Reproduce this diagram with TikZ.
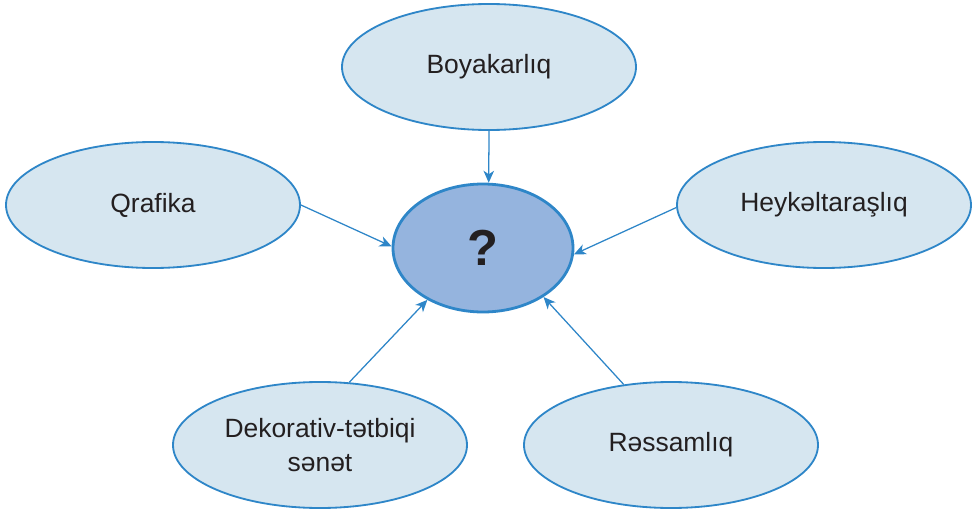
\documentclass[tikz,border=0pt]{standalone}
\usepackage{fontspec}
\setmainfont{Liberation Sans}
\usepackage{xcolor}
\usetikzlibrary{shapes.geometric, positioning, arrows.meta}
\definecolor{rimblue}{HTML}{2E86C8}
\definecolor{palefill}{HTML}{D6E6F0}
\definecolor{hubfill}{HTML}{95B4DE}
\definecolor{inkgray}{HTML}{231F20}
\tikzset{
  topic/.style={ellipse, draw=rimblue, line width=1.3pt, fill=palefill, minimum width=7.35cm, minimum height=3.15cm, inner sep=0pt, text=inkgray, font=\fontsize{18.8}{24.8}\selectfont, align=center},
  hub/.style={ellipse, draw=rimblue, line width=2pt, fill=hubfill, minimum width=4.5cm, minimum height=3.2cm, inner sep=0pt, text=inkgray, font=\fontsize{36}{40}\selectfont\bfseries},
  feed/.style={draw=rimblue, line width=0.9pt, -{Stealth[length=8.5pt,width=7.5pt,inset=2.5pt]}}
}
\begin{document}
\begin{tikzpicture}
  \useasboundingbox (0,0) rectangle (24.35,12.775);
  % centre and the five branches
  \node[hub] (art) at (12.075,6.575) {?};
  \node[topic] (boya) at (12.225,11.1) {Boyakarlıq};
  \node[topic] (qraf) at (3.825,7.65) {Qrafika};
  \node[topic] (heyk) at (20.6,7.65) {Heykəltaraşlıq};
  \node[topic] (dek) at (8.0,1.65) {Dekorativ-tətbiqi\\sənət};
  \node[topic] (ress) at (16.775,1.65) {Rəssamlıq};
  % arrows into the centre
  \draw[feed] (boya.south) -- (art.85);
  \draw[feed] (qraf.east) -- (art.179);
  \draw[feed] (heyk.181) -- (art.356);
  \draw[feed] (dek.65) -- (art.223);
  \draw[feed] (ress.128) -- (art.321);
\end{tikzpicture}
\end{document}
